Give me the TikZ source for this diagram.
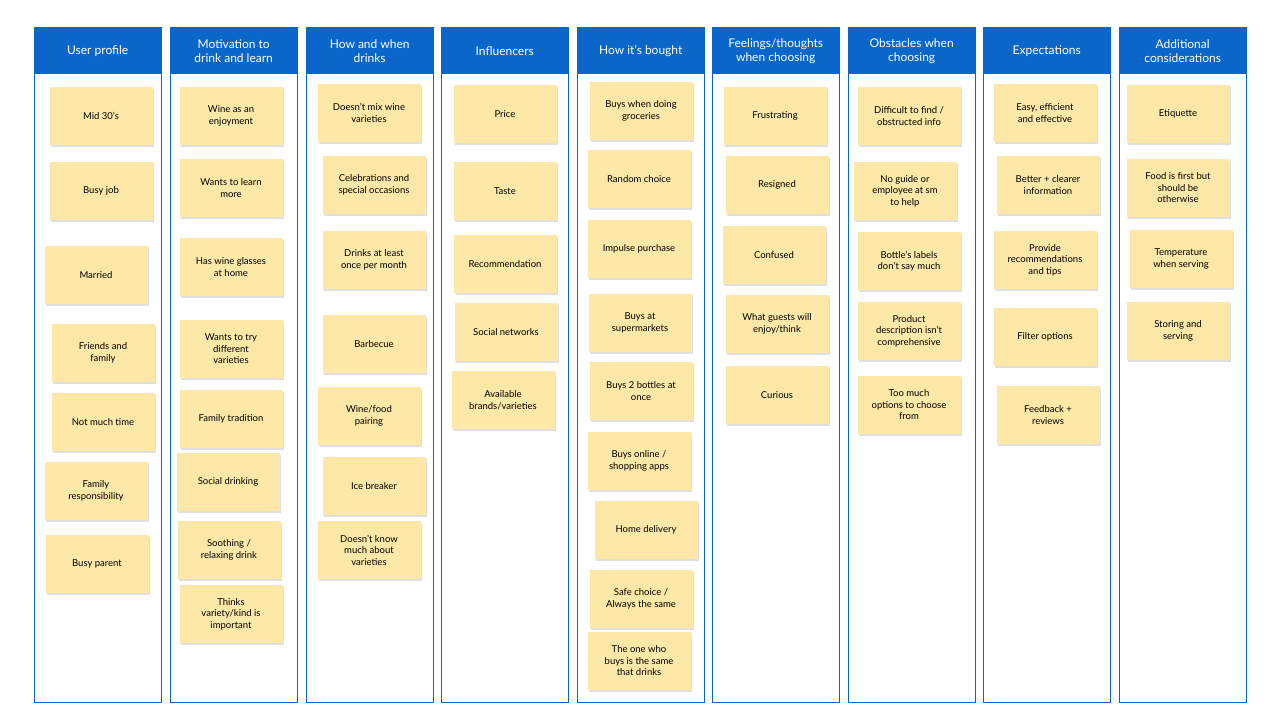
\documentclass[tikz,border=0pt]{standalone}
\usepackage{fontspec}
\setmainfont{Lato}
\usetikzlibrary{shadows}
\definecolor{hdblue}{HTML}{0A66C8}
\definecolor{notey}{HTML}{FDE8A8}
\begin{document}
\begin{tikzpicture}[x=1pt,y=-1pt]
\tikzset{ column/.style={draw=hdblue, line width=0.8pt, minimum width=127pt, minimum height=675pt, anchor=north west, inner sep=0pt},
  header/.style={fill=hdblue, text=white, minimum width=127pt, minimum height=47pt, anchor=north west, align=center, font=\fontsize{12}{14}\selectfont, inner sep=0pt},
  note/.style={fill=notey, minimum width=103pt, minimum height=58pt, align=center, inner sep=0pt, font=\fontsize{9.5}{11.5}\selectfont, drop shadow={shadow xshift=1pt, shadow yshift=-1.5pt, opacity=0.25}},
}
\useasboundingbox [fill=white] (0,0) rectangle (1280,720);

% columns and headers
\foreach \x/\t [count=\i] in {34/User profile, 170/Motivation to\\drink and learn, 306/How and when\\drinks, 441/Influencers, 577/How it's bought, 712/{Feelings/thoughts\\when choosing}, 848/Obstacles when\\choosing, 983/Expectations, 1119/Additional\\considerations}{
  \node [column] (col\i) at (\x,27) {};
  \node [header] (hd\i) at (\x,27) {\t};
}

% user profile
\node [note] (u1) at (101,116) {Mid 30's};
\node [note] (u2) at (101,191) {Busy job};
\node [note] (u3) at (96,275) {Married};
\node [note] (u4) at (103,353) {Friends and\\family};
\node [note] (u5) at (103,422) {Not much time};
\node [note] (u6) at (96,491) {Family\\responsibility};
\node [note] (u7) at (97,564) {Busy parent};

% motivation
\node [note] (m1) at (231,116) {Wine as an\\enjoyment};
\node [note] (m2) at (231,188) {Wants to learn\\more};
\node [note] (m3) at (231,267) {Has wine glasses\\at home};
\node [note] (m4) at (231,349) {Wants to try\\different\\varieties};
\node [note] (m5) at (231,419) {Family tradition};
\node [note] (m6) at (228,482) {Social drinking};
\node [note] (m7) at (229,550) {Soothing /\\relaxing drink};
\node [note] (m8) at (231,614) {Thinks\\variety/kind is\\important};

% how and when
\node [note] (w1) at (369,113) {Doesn't mix wine\\varieties};
\node [note] (w2) at (374,185) {Celebrations and\\special occasions};
\node [note] (w3) at (374,260) {Drinks at least\\once per month};
\node [note] (w4) at (374,344) {Barbecue};
\node [note] (w5) at (369,416) {Wine/food\\pairing};
\node [note] (w6) at (374,486) {Ice breaker};
\node [note] (w7) at (369,550) {Doesn't know\\much about\\varieties};

% influencers
\node [note] (i1) at (505,114) {Price};
\node [note] (i2) at (505,191) {Taste};
\node [note] (i3) at (505,264) {Recommendation};
\node [note] (i4) at (506,332) {Social networks};
\node [note] (i5) at (503,400) {Available\\brands/varieties};

% how it's bought
\node [note] (b1) at (641,111) {Buys when doing\\groceries};
\node [note] (b2) at (639,179) {Random choice};
\node [note] (b3) at (639,249) {Impulse purchase};
\node [note] (b4) at (640,323) {Buys at\\supermarkets};
\node [note] (b5) at (641,391) {Buys 2 bottles at\\once};
\node [note] (b6) at (639,461) {Buys online /\\shopping apps};
\node [note] (b7) at (646,530) {Home delivery};
\node [note] (b8) at (641,599) {Safe choice /\\Always the same};
\node [note] (b9) at (639,661) {The one who\\buys is the same\\that drinks};

% feelings
\node [note] (f1) at (775,116) {Frustrating};
\node [note] (f2) at (777,185) {Resigned};
\node [note] (f3) at (774,255) {Confused};
\node [note] (f4) at (777,324) {What guests will\\enjoy/think};
\node [note] (f5) at (777,395) {Curious};

% obstacles
\node [note] (o1) at (909,116) {Difficult to find /\\obstructed info};
\node [note] (o2) at (905,191) {No guide or\\employee at sm\\to help};
\node [note] (o3) at (909,261) {Bottle's labels\\don't say much};
\node [note] (o4) at (909,331) {Product\\description isn't\\comprehensive};
\node [note] (o5) at (909,405) {Too much\\options to choose\\from};

% expectations
\node [note] (e1) at (1045,113) {Easy, efficient\\and effective};
\node [note] (e2) at (1048,185) {Better + clearer\\information};
\node [note] (e3) at (1045,260) {Provide\\recommendations\\and tips};
\node [note] (e4) at (1045,337) {Filter options};
\node [note] (e5) at (1048,415) {Feedback +\\reviews};

% additional
\node [note] (a1) at (1178,114) {Etiquette};
\node [note] (a2) at (1178,188) {Food is first but\\should be\\otherwise};
\node [note] (a3) at (1181,259) {Temperature\\when serving};
\node [note] (a4) at (1178,331) {Storing and\\serving};

\end{tikzpicture}
\end{document}
